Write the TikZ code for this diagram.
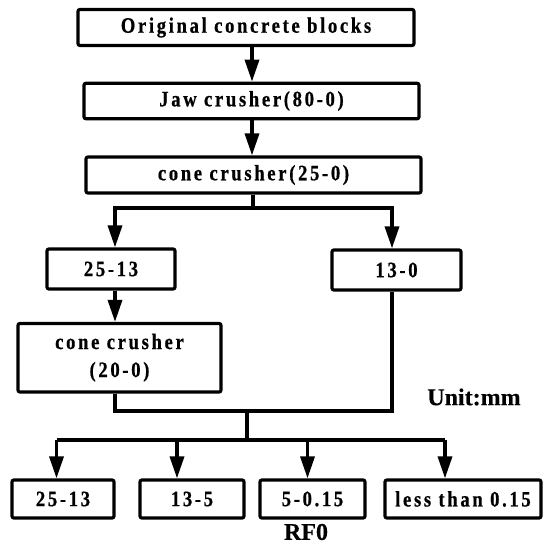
\documentclass[tikz,border=0pt]{standalone}
\usepackage{fontspec}
\setmainfont{Liberation Serif}
\newfontfamily\boxfont{Liberation Serif}[FakeStretch=0.85,LetterSpace=12,FakeBold=0.6]
\newfontfamily\notefont{Liberation Serif}[FakeBold=0.4]
\usetikzlibrary{arrows.meta}

\tikzset{
  stage/.style={draw, line width=3.2pt, rounded corners=2pt, inner sep=0pt,
    align=center, font=\boxfont\bfseries\fontsize{22}{28}\selectfont},
  wire/.style={line width=3.4pt},
  arr/.style={wire, -{Triangle[length=22pt,width=14pt]}},
  note/.style={inner sep=0pt, font=\notefont\bfseries\fontsize{24}{26}\selectfont}
}

\begin{document}
\begin{tikzpicture}[x=1pt,y=-1pt]
\useasboundingbox (0,0) rectangle (543,546);

% crushing chain
\node[stage, minimum width=336pt, minimum height=36pt] (orig) at (246,27.5) {Original concrete blocks};
\node[stage, minimum width=335pt, minimum height=35.5pt] (jaw) at (251.5,101) {Jaw crusher(80-0)};
\node[stage, minimum width=335pt, minimum height=36pt] (cone) at (253.5,175) {cone crusher(25-0)};

% first screening
\node[stage, minimum width=128pt, minimum height=40pt] (coarse) at (111,269) {25-13};
\node[stage, minimum width=129pt, minimum height=40pt] (fine) at (396.5,270) {13-0};
\node[stage, minimum width=203pt, minimum height=68.5pt] (cone2) at (119.5,357.75) {cone crusher\\(20-0)};

% final fractions
\node[stage, minimum width=102pt, minimum height=38pt] (fa) at (63,499) {25-13};
\node[stage, minimum width=104pt, minimum height=38pt] (fb) at (192,499) {13-5};
\node[stage, minimum width=105pt, minimum height=38pt] (fc) at (312.5,499) {5-0.15};
\node[stage, minimum width=156pt, minimum height=38pt] (fd) at (463,499) {less than 0.15};

\node[note] (rf) at (306,532) {RF0};
\node[note] (unit) at (474,397) {Unit:mm};

% guide coordinates for the connector runs
\coordinate (mx) at (252,0);
\coordinate (lx) at (115,0);
\coordinate (rx) at (392,0);
\coordinate (split) at (253,208);
\coordinate (mergeL) at (115,411);
\coordinate (mergeR) at (392,411);
\coordinate (join) at (247,411);
\coordinate (fan) at (247,440);
\coordinate (xa) at (56.5,0);
\coordinate (xb) at (177,0);
\coordinate (xc) at (307.5,0);
\coordinate (xd) at (445,0);

% main column
\draw[arr] (orig.south -| mx) -- (jaw.north -| mx);
\draw[arr] (jaw.south -| mx) -- (cone.north -| mx);

% split into two fractions
\draw[wire] (cone.south -| split) -- (split);
\draw[arr] (split) -| (coarse.north -| lx);
\draw[arr] (split) -| (fine.north -| rx);
\draw[arr] (coarse.south -| lx) -- (cone2.north -| lx);

% merge both streams
\draw[wire] (cone2.south -| lx) -- (mergeL) -- (mergeR) -- (fine.south -| rx);
\draw[wire] (join) -- (fan);

% fan out to final fractions
\draw[wire] (fan -| xa) -- (fan -| xd);
\draw[arr] (fan -| xa) -- (fa.north -| xa);
\draw[arr] (fan -| xb) -- (fb.north -| xb);
\draw[arr] (fan -| xc) -- (fc.north -| xc);
\draw[arr] (fan -| xd) -- (fd.north -| xd);
\end{tikzpicture}
\end{document}
